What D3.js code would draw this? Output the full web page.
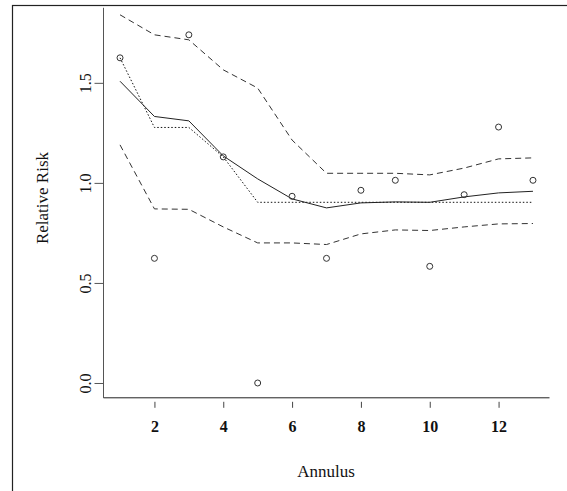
<!DOCTYPE html>
<html>
<head>
<meta charset="utf-8">
<script src="https://cdn.jsdelivr.net/npm/d3@7"></script>
<style>
	body { margin: 0; background: #fff; }
	text { font-family: "Liberation Serif", "DejaVu Serif", serif; fill: #111; }
</style>
</head>
<body>
<div id="chart"></div>
<script>
// data
var annulus = [1, 2, 3, 4, 5, 6, 7, 8, 9, 10, 11, 12, 13];
var observed = [1.625, 0.623, 1.74, 1.13, 0.0, 0.933, 0.623, 0.963, 1.013, 0.583, 0.941, 1.279, 1.013];
var smoothed = [1.508, 1.332, 1.31, 1.135, 1.02, 0.92, 0.875, 0.9, 0.905, 0.903, 0.93, 0.95, 0.958];
var monotone = [1.625, 1.277, 1.277, 1.13, 0.903, 0.903, 0.903, 0.903, 0.903, 0.903, 0.903, 0.903, 0.903];
var upper = [1.84, 1.74, 1.715, 1.565, 1.474, 1.214, 1.048, 1.048, 1.048, 1.04, 1.074, 1.12, 1.125];
var lower = [1.19, 0.87, 0.868, 0.78, 0.70, 0.70, 0.692, 0.745, 0.765, 0.762, 0.78, 0.795, 0.797];
var xticks = [2, 4, 6, 8, 10, 12];
var yticks = [0.0, 0.5, 1.0, 1.5];

var width = 567, height = 491;

var x = d3.scaleLinear().domain([0.52, 13.48]).range([103.5, 549.5]);
var y = d3.scaleLinear().domain([-0.074, 1.875]).range([397.8, 7.8]);

var svg = d3.select('#chart').append('svg')
	.attr('width', width)
	.attr('height', height);

// outer frame (runs off the right and bottom edge)
svg.append('rect')
	.attr('x', 12.5)
	.attr('y', 5.5)
	.attr('width', 700)
	.attr('height', 700)
	.attr('fill', 'none')
	.attr('stroke', '#222')
	.attr('stroke-width', 1.2);

// L-shaped box
svg.append('line')
	.attr('x1', x.range()[0]).attr('x2', x.range()[0])
	.attr('y1', y.range()[1]).attr('y2', y.range()[0])
	.attr('stroke', '#555');
svg.append('line')
	.attr('x1', x.range()[0]).attr('x2', x.range()[1])
	.attr('y1', y.range()[0]).attr('y2', y.range()[0])
	.attr('stroke', '#222');

// x axis, drawn a little below the box line
var xAxis = svg.append('g')
	.attr('transform', 'translate(0,' + (y.range()[0] + 4) + ')')
	.call(d3.axisBottom(x).tickValues(xticks).tickSize(6).tickPadding(13).tickFormat(d3.format('d')));
xAxis.select('.domain').remove();
xAxis.selectAll('line').attr('stroke', '#444');
xAxis.selectAll('text')
	.attr('font-size', 16)
	.attr('font-weight', 'bold')
	.attr('fill', '#222')
	.style('font-family', '"Liberation Serif", serif');

// y axis with rotated labels
var yAxis = svg.append('g')
	.attr('transform', 'translate(' + x.range()[0] + ',0)')
	.call(d3.axisLeft(y).tickValues(yticks).tickSize(9).tickFormat(d3.format('.1f')));
yAxis.select('.domain').remove();
yAxis.selectAll('line').attr('stroke', '#555');
yAxis.selectAll('text')
	.attr('x', null).attr('dy', null)
	.attr('transform', 'translate(-13,0) rotate(-90)')
	.attr('text-anchor', 'middle')
	.attr('font-size', 16)
	.attr('fill', '#222')
	.style('font-family', '"Liberation Serif", serif');

// titles
svg.append('text')
	.attr('transform', 'translate(48,198) rotate(-90)')
	.attr('text-anchor', 'middle')
	.attr('font-size', 17)
	.text('Relative Risk');
svg.append('text')
	.attr('x', 326)
	.attr('y', 477)
	.attr('text-anchor', 'middle')
	.attr('font-size', 17)
	.text('Annulus');

function series(vals) {
	return annulus.map(function(a, i) { return [a, vals[i]]; });
}

var line = d3.line()
	.x(function(d) { return x(d[0]); })
	.y(function(d) { return y(d[1]); });

var plot = svg.append('g');

plot.append('path')
	.datum(series(upper))
	.attr('d', line)
	.attr('fill', 'none')
	.attr('stroke', '#333')
	.attr('stroke-dasharray', '6,4');
plot.append('path')
	.datum(series(lower))
	.attr('d', line)
	.attr('fill', 'none')
	.attr('stroke', '#333')
	.attr('stroke-dasharray', '6,4');
plot.append('path')
	.datum(series(monotone))
	.attr('d', line)
	.attr('fill', 'none')
	.attr('stroke', '#111')
	.attr('stroke-dasharray', '1.5,2');
plot.append('path')
	.datum(series(smoothed))
	.attr('d', line)
	.attr('fill', 'none')
	.attr('stroke', '#222');

plot.selectAll('.obs')
	.data(series(observed))
	.enter().append('circle')
	.attr('class', 'obs')
	.attr('cx', function(d) { return x(d[0]); })
	.attr('cy', function(d) { return y(d[1]); })
	.attr('r', 3)
	.attr('fill', 'none')
	.attr('stroke', '#333')
	.attr('stroke-width', 1);
</script>
</body>
</html>
